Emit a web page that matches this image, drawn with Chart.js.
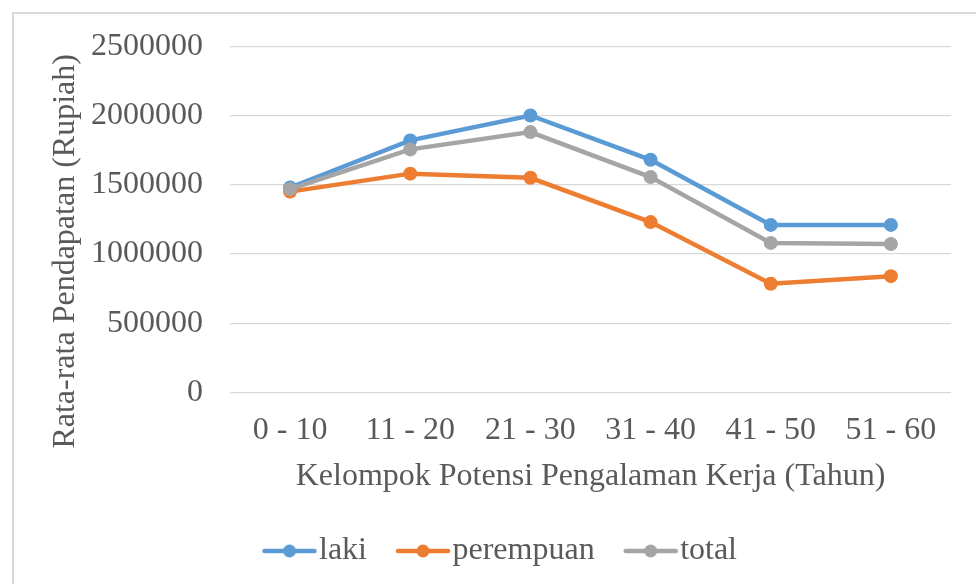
<!DOCTYPE html>
<html lang="id">
<head>
  <meta charset="UTF-8">
  <title>Rata-rata Pendapatan menurut Kelompok Potensi Pengalaman Kerja</title>
  <script src="https://cdn.jsdelivr.net/npm/chart.js"></script>
  <style>
    html, body { margin: 0; padding: 0; background: #fff; }
    #chart { display: block; }
  </style>
</head>
<body>
  <canvas id="chart" width="976" height="584"></canvas>
  <script>
    // categories and series (Rupiah)
    const groups = ['0 - 10', '11 - 20', '21 - 30', '31 - 40', '41 - 50', '51 - 60'];
    const laki = [1480000, 1820000, 2000000, 1680000, 1210000, 1210000];
    const perempuan = [1450000, 1580000, 1550000, 1230000, 785000, 840000];
    const total = [1468000, 1755000, 1880000, 1555000, 1080000, 1072000];
    const seriesNames = ['laki', 'perempuan', 'total'];
    const seriesColors = ['#5B9BD5', '#ED7D31', '#A5A5A5'];

    const textColor = '#595959';
    const serif = 'Liberation Serif, Times New Roman, serif';
    const fontSize = 32;

    // legend marker: short line with a dot in the middle
    function legendMarker(color) {
      const c = document.createElement('canvas');
      c.width = 56; c.height = 16;
      const g = c.getContext('2d');
      g.strokeStyle = color;
      g.lineWidth = 4.5;
      g.lineCap = 'round';
      g.beginPath();
      g.moveTo(3, 8);
      g.lineTo(53, 8);
      g.stroke();
      g.fillStyle = color;
      g.beginPath();
      g.arc(28, 8, 6.5, 0, Math.PI * 2);
      g.fill();
      return c;
    }

    // light frame round the chart
    const framePlugin = {
      id: 'frame',
      beforeDraw(chart) {
        const ctx = chart.ctx;
        ctx.save();
        ctx.strokeStyle = '#d9d9d9';
        ctx.lineWidth = 2;
        ctx.strokeRect(13, 13, 1100, 1100);
        ctx.restore();
      }
    };

    const seriesData = [laki, perempuan, total];
    const datasets = seriesData.map((vals, i) => ({
      label: seriesNames[i],
      data: vals,
      borderColor: seriesColors[i],
      backgroundColor: seriesColors[i],
      borderWidth: 4.5,
      pointRadius: 7,
      pointBorderWidth: 0,
      pointBackgroundColor: seriesColors[i],
      tension: 0,
      order: 3 - i
    }));

    new Chart(document.getElementById('chart'), {
      type: 'line',
      data: { labels: groups, datasets },
      plugins: [framePlugin],
      options: {
        responsive: false,
        animation: false,
        layout: { padding: { left: 62, right: 25, top: 42, bottom: 7 } },
        plugins: {
          tooltip: { enabled: false },
          legend: {
            position: 'bottom',
            labels: {
              usePointStyle: true,
              pointStyleWidth: 27,
              padding: 42.5,
              color: textColor,
              font: { family: serif, size: fontSize },
              generateLabels: () => seriesNames.map((name, i) => ({
                text: name,
                fillStyle: seriesColors[i],
                strokeStyle: seriesColors[i],
                lineWidth: 0,
                pointStyle: legendMarker(seriesColors[i]),
                fontColor: textColor,
                hidden: false,
                datasetIndex: i
              }))
            }
          }
        },
        scales: {
          x: {
            offset: true,
            grid: { display: false, drawTicks: false },
            border: { display: false },
            ticks: { color: textColor, padding: 19, font: { family: serif, size: fontSize }, maxRotation: 0 },
            title: {
              display: true,
              text: 'Kelompok Potensi Pengalaman Kerja (Tahun)',
              color: textColor,
              font: { family: serif, size: fontSize },
              padding: { top: 0, bottom: -3 }
            },
            afterFit: s => { s.height = 100; }
          },
          y: {
            min: 0,
            max: 2500000,
            grid: { color: '#d9d9d9', lineWidth: 1.3, drawTicks: false },
            border: { display: false },
            ticks: {
              stepSize: 500000,
              padding: 27,
              color: textColor,
              font: { family: serif, size: fontSize },
              callback: v => String(v)
            },
            title: {
              display: true,
              text: 'Rata-rata Pendapatan (Rupiah)' + '\u00a0'.repeat(8),
              color: textColor,
              font: { family: serif, size: fontSize },
              padding: { top: -16, bottom: 0 }
            },
            afterFit: s => { s.width = 168; }
          }
        }
      }
    });
  </script>
</body>
</html>
